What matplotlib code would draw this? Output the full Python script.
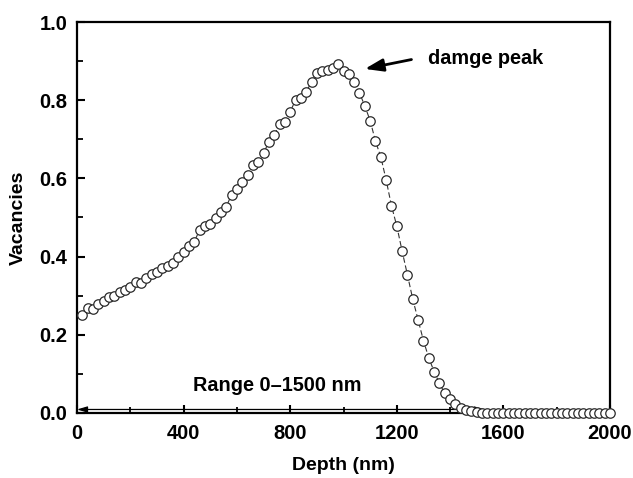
import numpy as np
import matplotlib
matplotlib.use("Agg")
import matplotlib.pyplot as plt

plt.rcParams['font.family'] = ['Liberation Sans', 'DejaVu Sans']
plt.rcParams['font.weight'] = 'bold'

depth = list(range(20, 2001, 20))
vacancies = [
    0.251, 0.269, 0.267, 0.279, 0.287, 0.296, 0.300, 0.309, 0.315, 0.323,
    0.336, 0.332, 0.344, 0.355, 0.361, 0.370, 0.376, 0.384, 0.400, 0.413,
    0.427, 0.438, 0.468, 0.477, 0.483, 0.498, 0.515, 0.528, 0.558, 0.572,
    0.592, 0.609, 0.634, 0.643, 0.664, 0.694, 0.711, 0.738, 0.745, 0.771,
    0.800, 0.806, 0.822, 0.846, 0.869, 0.875, 0.877, 0.882, 0.893, 0.874,
    0.867, 0.846, 0.819, 0.785, 0.748, 0.695, 0.655, 0.596, 0.530, 0.478,
    0.414, 0.353, 0.291, 0.238, 0.185, 0.141, 0.106, 0.076, 0.050, 0.035,
    0.022, 0.012, 0.007, 0.004, 0.002, 0.001, 0.0, 0.0, 0.0, 0.0,
    0.0, 0.0, 0.0, 0.0, 0.0, 0.0, 0.0, 0.0, 0.0, 0.0,
    0.0, 0.0, 0.0, 0.0, 0.0, 0.0, 0.0, 0.0, 0.0, 0.0,
]
x_ticks = [0, 400, 800, 1200, 1600, 2000]
y_ticks = [0.0, 0.2, 0.4, 0.6, 0.8, 1.0]
peak_label = "damge peak"
range_label = "Range 0\u20131500 nm"
range_span = [0, 1530]

fig = plt.figure(figsize=(6.33, 4.78), dpi=100)
ax = fig.add_axes([77/633, 1-413/478, (610-77)/633, (413-22)/478])

ax.plot(depth, vacancies, linestyle=(0, (5, 2.5)), color='#333333', linewidth=0.8,
        marker='o', markersize=6.8, markerfacecolor='white', markeredgecolor='#2a2a2a',
        markeredgewidth=0.9, zorder=3, clip_on=False)

ax.set_xlim(0, 2000)
ax.set_ylim(0, 1.0)
ax.set_xticks(x_ticks)
ax.set_yticks(y_ticks)
ax.set_xticks(np.arange(200, 2000, 400), minor=True)
ax.set_yticks(np.arange(0.1, 1.0, 0.2), minor=True)
ax.set_yticklabels([f"{v:.1f}" for v in y_ticks])
ax.tick_params(which='major', direction='in', length=6, width=1.5, labelsize=14.5)
ax.tick_params(axis='x', which='major', pad=8)
ax.tick_params(axis='y', which='major', pad=7)
ax.tick_params(which='minor', direction='in', length=4, width=1.3)
for lab in ax.get_xticklabels() + ax.get_yticklabels():
    lab.set_fontweight('bold')
for s in ax.spines.values():
    s.set_linewidth(1.6)

ax.set_xlabel("Depth (nm)", fontsize=14, fontweight='bold', labelpad=10)
ax.set_ylabel("Vacancies", fontsize=14, fontweight='bold', labelpad=9)

# damage peak annotation
ax.annotate("", xy=(1080, 0.88), xytext=(1255, 0.904),
            arrowprops=dict(arrowstyle='-|>,head_length=1.1,head_width=0.38',
                            color='black', lw=2.0, shrinkA=0, shrinkB=0))
ax.text(1317, 0.907, peak_label, fontsize=14.3, fontweight='bold', va='center', ha='left')

# range arrow
ax.annotate("", xy=(range_span[0], 0.009), xytext=(range_span[1], 0.009),
            arrowprops=dict(arrowstyle='<|-|>,head_length=0.6,head_width=0.18',
                            color='black', lw=0.9, shrinkA=0, shrinkB=0), zorder=2)
ax.text(753, 0.07, range_label, fontsize=14.3, fontweight='bold', va='center', ha='center')

fig.savefig("out.png", dpi=100)
